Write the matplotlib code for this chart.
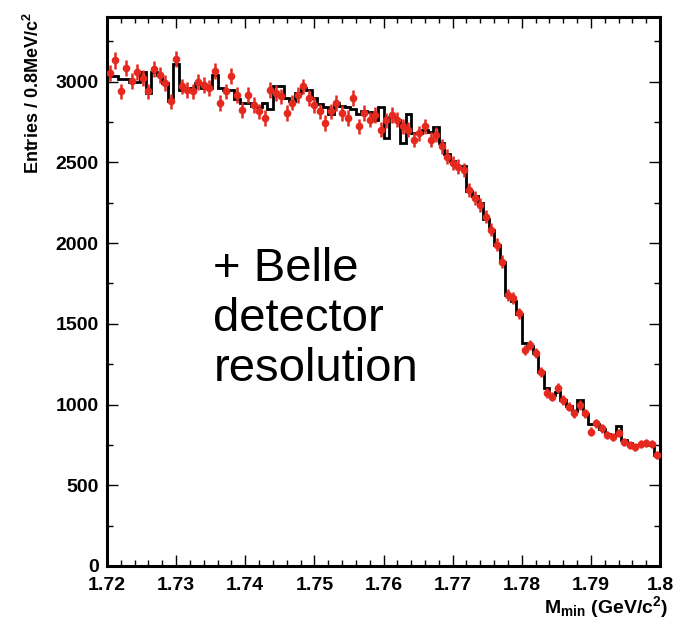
import numpy as np
import matplotlib
matplotlib.use("Agg")
import matplotlib.pyplot as plt
from matplotlib.ticker import MultipleLocator

plt.rcParams['font.family'] = ['Liberation Sans', 'DejaVu Sans']
plt.rcParams['mathtext.fontset'] = 'custom'
plt.rcParams['mathtext.rm'] = 'Liberation Sans:bold'
plt.rcParams['mathtext.it'] = 'Liberation Sans:bold'
plt.rcParams['mathtext.bf'] = 'Liberation Sans:bold'

# histogram range and binning (0.8 MeV bins)
x_min = 1.72
x_max = 1.80
n_bins = 100

# measured data (red points), entries per bin
data_counts = [
    3053, 3131, 2939, 3083, 3001, 3057, 3022, 2939, 3077, 3042,
    2990, 2877, 3139, 2970, 2949, 2939, 2995, 2980, 2960, 3063,
    2866, 2939, 3032, 2918, 2825, 2918, 2856, 2815, 2774, 2949,
    2929, 2908, 2805, 2870, 2918, 2970, 2897, 2856, 2815, 2743,
    2815, 2866, 2805, 2774, 2897, 2722, 2805, 2764, 2794, 2701,
    2760, 2794, 2764, 2722, 2701, 2640, 2681, 2722, 2640, 2670,
    2598, 2536, 2495, 2474, 2454, 2330, 2280, 2237, 2164, 2082,
    1989, 1885, 1679, 1658, 1565, 1338, 1369, 1318, 1204, 1070,
    1049, 1101, 1029, 987, 946, 997, 946, 832, 884, 853,
    812, 801, 822, 770, 750, 739, 756, 760, 756, 688,
]

# model histogram (black line), entries per bin
model_counts = [
    3036, 3036, 3015, 3015, 3000, 2995, 3060, 2930, 3060, 3040,
    2990, 2880, 3110, 2950, 2950, 2960, 2990, 2960, 2960, 3040,
    2960, 2950, 2950, 2890, 2870, 2870, 2850, 2840, 2870, 2830,
    2975, 2975, 2900, 2880, 2930, 2960, 2950, 2900, 2860, 2840,
    2800, 2870, 2850, 2840, 2830, 2800, 2820, 2810, 2760, 2840,
    2650, 2780, 2760, 2620, 2800, 2680, 2680, 2700, 2690, 2720,
    2620, 2550, 2510, 2480, 2480, 2320, 2290, 2250, 2150, 2080,
    1990, 1880, 1680, 1640, 1560, 1380, 1360, 1320, 1200, 1100,
    1060, 1080, 1030, 990, 960, 1030, 940, 880, 880, 850,
    820, 810, 870, 780, 760, 750, 750, 750, 750, 690,
]

y_ticks = [0, 500, 1000, 1500, 2000, 2500, 3000]
x_ticks = [1.72, 1.73, 1.74, 1.75, 1.76, 1.77, 1.78, 1.79, 1.80]
x_tick_labels = ["1.72", "1.73", "1.74", "1.75", "1.76", "1.77", "1.78", "1.79", "1.8"]

edges = np.linspace(x_min, x_max, n_bins + 1)
centers = 0.5 * (edges[:-1] + edges[1:])
data = np.array(data_counts, dtype=float)
model = np.array(model_counts, dtype=float)
yerr = 0.9 * np.sqrt(data)
xerr = 0.5 * (edges[1] - edges[0])

fig = plt.figure(figsize=(6.78, 6.28), dpi=100)
ax = fig.add_axes([107 / 678, 1 - 566 / 628, (660 - 107) / 678, (566 - 17) / 628])

ax.stairs(model, edges, color='black', linewidth=2.0, zorder=2)
ax.errorbar(centers, data, yerr=yerr, xerr=xerr, fmt='o', color='#e5291f',
            markersize=4.5, elinewidth=1.8, capsize=0, zorder=3)

ax.set_xlim(x_min, x_max)
ax.set_ylim(0, 3400)
ax.set_xticks(x_ticks)
ax.set_xticklabels(x_tick_labels)
ax.set_yticks(y_ticks)
ax.xaxis.set_minor_locator(MultipleLocator(0.002))
ax.yaxis.set_minor_locator(MultipleLocator(250))
ax.tick_params(axis='both', which='both', direction='in', top=True, right=True)
ax.tick_params(axis='both', which='major', length=8, width=1.0, labelsize=14)
ax.tick_params(axis='x', which='major', pad=8)
ax.tick_params(axis='y', which='major', pad=6)
ax.tick_params(axis='both', which='minor', length=4, width=1.0)
for lab in ax.get_xticklabels() + ax.get_yticklabels():
    lab.set_fontweight('bold')
for sp in ax.spines.values():
    sp.set_linewidth(2.2)

fig.text(668 / 678, 1 - 607 / 628, r"M$_{\rm min}$ (GeV/c$^{2}$)", ha='right', va='center',
         fontsize=14, fontweight='bold')
fig.text(33 / 678, 1 - 12 / 628, r"Entries / 0.8MeV/c$^{2}$", ha='center', va='top',
         rotation=90, fontsize=13, fontweight='bold')

ax.text(1.7354, 1975, "+ Belle\ndetector\nresolution", fontsize=34,
        ha='left', va='top', linespacing=1.18, color='black')

fig.savefig("out.png", dpi=100)
